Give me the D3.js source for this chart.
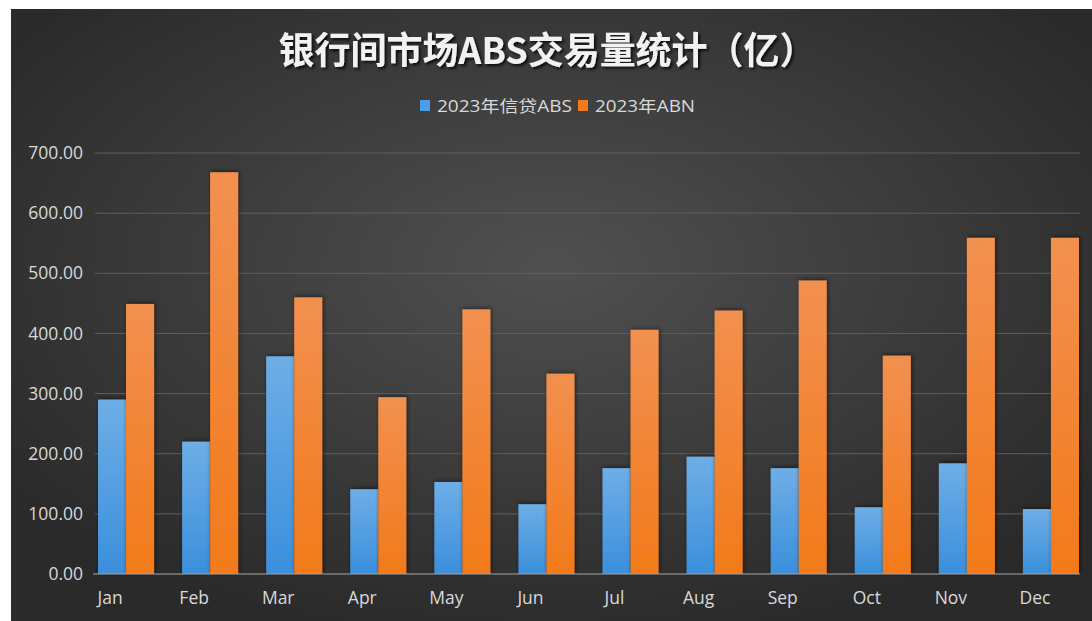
<!DOCTYPE html>
<html>
<head>
<meta charset="utf-8">
<script src="https://cdn.jsdelivr.net/npm/d3@7"></script>
<style>
    body { margin: 0; background: #ffffff; }
    #chart-container { width: 1092px; height: 621px; }
</style>
</head>
<body>
<div id="chart-container"></div>
<script>
// chart data
const months = ["Jan", "Feb", "Mar", "Apr", "May", "Jun", "Jul", "Aug", "Sep", "Oct", "Nov", "Dec"];
const seriesNames = ["2023年信贷ABS", "2023年ABN"];
const absValues = [290, 220, 362, 141, 153, 116, 176, 195, 176, 111, 184, 108];
const abnValues = [449, 668, 460, 294, 440, 333, 406, 438, 488, 363, 559, 559];
const yTicks = [0, 100, 200, 300, 400, 500, 600, 700];

function createChart() {
    const W = 1092, H = 621;
    const panel = { x: 11, y: 9, w: W - 11, h: H - 9 };

    const svg = d3.select("#chart-container").append("svg")
        .attr("width", W)
        .attr("height", H)
        .style("font-family", "'Open Sans', 'Noto Sans CJK SC', sans-serif");

    const defs = svg.append("defs");

    // dark radial background
    const bg = defs.append("radialGradient")
        .attr("id", "bg")
        .attr("cx", "50%").attr("cy", "42%").attr("r", "62%");
    bg.append("stop").attr("offset", "0%").attr("stop-color", "#505050");
    bg.append("stop").attr("offset", "100%").attr("stop-color", "#2a2a2a");

    // bar gradients, lighter at the top
    const gBlue = defs.append("linearGradient").attr("id", "gBlue")
        .attr("x1", 0).attr("y1", 0).attr("x2", 0).attr("y2", 1);
    gBlue.append("stop").attr("offset", "0%").attr("stop-color", "#6eaee6");
    gBlue.append("stop").attr("offset", "100%").attr("stop-color", "#3b8fdc");

    const gOrange = defs.append("linearGradient").attr("id", "gOrange")
        .attr("x1", 0).attr("y1", 0).attr("x2", 0).attr("y2", 1);
    gOrange.append("stop").attr("offset", "0%").attr("stop-color", "#f29050");
    gOrange.append("stop").attr("offset", "100%").attr("stop-color", "#f27a1a");

    const shadow = defs.append("filter").attr("id", "shadow")
        .attr("x", "-30%").attr("y", "-10%").attr("width", "160%").attr("height", "120%");
    shadow.append("feDropShadow")
        .attr("dx", 1).attr("dy", -1)
        .attr("stdDeviation", 2)
        .attr("flood-color", "#000").attr("flood-opacity", 0.55);

    const titleShadow = defs.append("filter").attr("id", "titleShadow");
    titleShadow.append("feDropShadow")
        .attr("dx", 2).attr("dy", 2)
        .attr("stdDeviation", 1.5)
        .attr("flood-color", "#000").attr("flood-opacity", 0.8);

    svg.append("rect")
        .attr("x", panel.x).attr("y", panel.y)
        .attr("width", panel.w).attr("height", panel.h)
        .attr("fill", "url(#bg)");

    // scales
    const y = d3.scaleLinear().domain([0, 700]).range([574, 153]);
    const x = d3.scaleBand().domain(months).range([84, 1093])
        .paddingInner(1 / 3).paddingOuter(1 / 6);
    const xSub = d3.scaleBand().domain(seriesNames).range([0, x.bandwidth()]);
    const colors = { "2023年信贷ABS": "url(#gBlue)", "2023年ABN": "url(#gOrange)" };

    // gridlines
    svg.append("g")
        .selectAll("line")
        .data(yTicks.filter(d => d > 0))
        .enter().append("line")
        .attr("x1", 95).attr("x2", 1080)
        .attr("y1", d => y(d)).attr("y2", d => y(d))
        .attr("stroke", "#5f5f5f")
        .attr("stroke-width", 1);

    // y axis labels
    const yAxis = d3.axisLeft(y).tickValues(yTicks).tickFormat(d3.format(".2f")).tickSize(0).tickPadding(0);
    const yg = svg.append("g")
        .attr("transform", "translate(83,0)")
        .call(yAxis);
    yg.select(".domain").remove();
    yg.selectAll("text")
        .attr("fill", "#d9d9d9")
        .attr("font-size", "17.5px")
        .attr("font-family", "'Open Sans', sans-serif");

    // bars
    const rows = months.map((m, i) => ({ month: m, values: [absValues[i], abnValues[i]] }));
    const groups = svg.append("g")
        .selectAll("g")
        .data(rows)
        .enter().append("g")
        .attr("transform", d => "translate(" + x(d.month) + ",0)");

    groups.selectAll("rect")
        .data(d => seriesNames.map((s, j) => ({ name: s, value: d.values[j] })))
        .enter().append("rect")
        .attr("x", d => xSub(d.name))
        .attr("width", xSub.bandwidth())
        .attr("y", d => y(d.value))
        .attr("height", d => y(0) - y(d.value))
        .attr("fill", d => colors[d.name])
        .attr("filter", "url(#shadow)");

    // baseline
    svg.append("line")
        .attr("x1", 93).attr("x2", 1080)
        .attr("y1", y(0)).attr("y2", y(0))
        .attr("stroke", "#a6a6a6")
        .attr("stroke-width", 1.2);

    // x axis labels (sit a little left of the bar pair in the original)
    const xAxis = d3.axisBottom(x).tickSize(0).tickPadding(0);
    const xg = svg.append("g")
        .attr("transform", "translate(-16," + (y(0) + 18) + ")")
        .call(xAxis);
    xg.select(".domain").remove();
    xg.selectAll("text")
        .attr("fill", "#d9d9d9")
        .attr("font-size", "17.5px")
        .attr("font-family", "'Open Sans', sans-serif");

    // title
    svg.append("text")
        .attr("x", 547)
        .attr("y", 64)
        .attr("text-anchor", "middle")
        .attr("fill", "#f2f2f2")
        .attr("font-size", "37px")
        .attr("font-weight", "bold")
        .attr("font-family", "'Noto Sans CJK SC', sans-serif")
        .attr("textLength", 537)
        .attr("lengthAdjust", "spacingAndGlyphs")
        .attr("filter", "url(#titleShadow)")
        .text("银行间市场ABS交易量统计（亿）");

    // legend
    const legendItems = [
        { name: seriesNames[0], color: "#4a9ee8", x: 420, tx: 437, len: 135 },
        { name: seriesNames[1], color: "#f27a1a", x: 578, tx: 595, len: 100 }
    ];
    const legend = svg.append("g");
    legend.selectAll("rect")
        .data(legendItems)
        .enter().append("rect")
        .attr("x", d => d.x).attr("y", 100)
        .attr("width", 10).attr("height", 11)
        .attr("fill", d => d.color);
    legend.selectAll("text")
        .data(legendItems)
        .enter().append("text")
        .attr("x", d => d.tx)
        .attr("y", 112)
        .attr("fill", "#d9d9d9")
        .attr("font-size", "16px")
        .attr("font-family", "'Open Sans', 'Noto Sans CJK SC', sans-serif")
        .attr("textLength", d => d.len)
        .attr("lengthAdjust", "spacingAndGlyphs")
        .text(d => d.name);
}

document.addEventListener("DOMContentLoaded", () => {
    createChart();
});
</script>
</body>
</html>
